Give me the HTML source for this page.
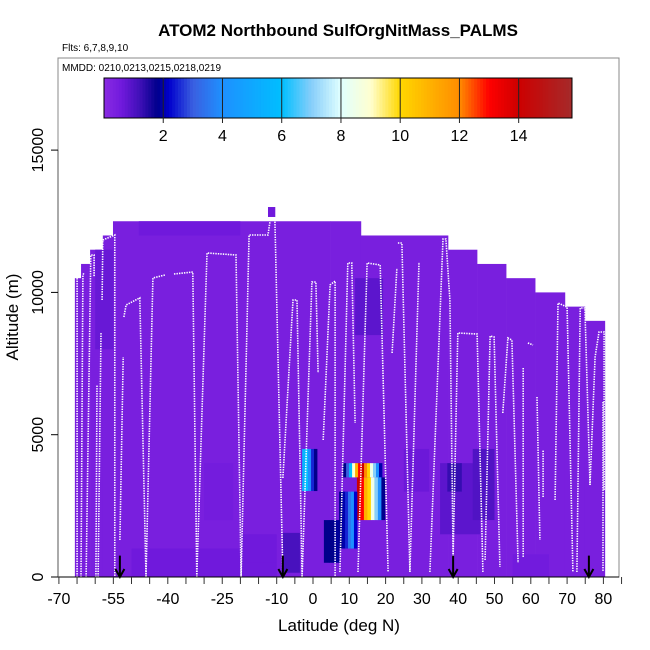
<!DOCTYPE html>
<html><head><meta charset="utf-8">
<style>
html,body{margin:0;padding:0;background:#fff;}
svg{display:block;font-family:"Liberation Sans",sans-serif;}
</style></head>
<body>
<svg id="chart" width="650" height="650" viewBox="0 0 650 650" xmlns="http://www.w3.org/2000/svg">
<text x="338" y="36" text-anchor="middle" font-size="17" font-weight="bold">ATOM2 Northbound SulfOrgNitMass_PALMS</text>
<text x="62" y="51" font-size="10">Flts: 6,7,8,9,10</text>
<g id="cells"></g>
<g id="profiles"></g>
<g id="arrows"></g>
<rect x="58" y="58" width="561" height="519" fill="none" stroke="#888" stroke-width="1"/>
<text x="62" y="71" font-size="10">MMDD: 0210,0213,0215,0218,0219</text>
<g id="cbar"></g>
<g id="xaxis"></g>
<g id="yaxis"></g>
<text x="339" y="631" text-anchor="middle" font-size="17">Latitude (deg N)</text>
<text transform="translate(18,317) rotate(-90)" text-anchor="middle" font-size="17">Altitude (m)</text>
</svg>
<script>
// ---- data ----
const colTopLat = [-65.6,-63.9,-61.4,-57.9,-55.1,4.7,13.2,37.2,45.2,53.2,61.2,69.4,74.9,80.4];
const colTopAlt = [10500,11000,11500,12000,12500,12500,12000,11500,11000,10500,10000,9500,9000];
const baseValue = 0.4;
const dimLat0 = [-60,-48,-8.3,-50,11.6,35,37,44,-20,25,55,-30];
const dimLat1 = [-55,-20,-3.6,-10,19.3,46,41,50,-10,32,65,-22];
const dimAlt0 = [8000,12000,150,0,8500,1500,3000,2000,500,3000,0,2000];
const dimAlt1 = [11500,12500,1550,1000,10500,4000,4000,4500,1500,4500,800,4000];
const dimVal  = [0.7,0.6,1.1,0.6,0.85,0.85,1.3,1.0,0.6,0.65,0.55,0.5];
const anomLat0 = [-3.0,8.3,12.1,7.2,3.0,-12.4];
const anomLat1 = [1.1,19.0,19.8,12.1,7.2,-10.5];
const anomAlt0 = [3020,3500,2000,1000,500,12650];
const anomAlt1 = [4500,4000,3500,3000,2000,13000];
const anomVals = [
  [5.5,6,4,2.5,1.8],
  [1.8,3,6,9,11,13,14,12,10,8.5,7,4,2],
  [14,13,11,10,8.5,7,4,1.8],
  [1.8,2,2.5,3.5,4,2.2],
  [1.8,1.8,1.9],
  [0.6]
];
const profiles = [
  [[-65.0,0],[-65.0,10577]],
  [[-63.9,0],[-63.4,10612],[-63.1,10682]],
  [[-62.5,0],[-61.2,11315],[-60.3,11315],[-60.3,10542]],
  [[-59.8,0],[-59.5,6747]],
  [[-59.2,0],[-58.4,8574]],
  [[-58.1,9734],[-57.9,11842],[-54.6,12018],[-54.6,0]],
  [[-53.2,1300],[-52.3,7731]],
  [[-52.1,9136],[-51.5,9558],[-47.7,9805],[-46.0,0]],
  [[-46.0,0],[-44.1,10507],[-40.8,10612]],
  [[-38.3,10647],[-33.1,10718],[-32.0,0]],
  [[-32.0,0],[-29.2,11386],[-21.2,11315],[-19.8,0]],
  [[-19.8,0],[-17.6,12018],[-12.4,12018],[-11.8,12545],[-10.5,12545],[-8.3,0]],
  [[-8.3,3479],[-5.5,9734],[-4.4,9734],[-3.0,0]],
  [[-3.0,0],[-0.3,10366],[0.8,10366],[1.4,7169]],
  [[2.8,4814],[4.7,10261],[6.1,10401],[6.1,0]],
  [[7.4,176],[9.6,11034],[10.7,11034],[11.6,5412]],
  [[12.4,176],[14.9,11034],[18.5,10963],[20.7,176]],
  [[21.8,7871],[23.1,10858]],
  [[23.4,11737],[24.5,11737],[26.7,176]],
  [[26.7,176],[29.2,11069]],
  [[32.2,176],[35.8,11877],[36.6,11877],[37.7,9734],[38.6,703]],
  [[38.6,703],[39.9,8574],[45.2,8539],[46.8,176]],
  [[47.4,597],[48.8,8469],[49.9,8434],[51.5,351]],
  [[52.3,5763],[53.7,8398],[54.8,8328],[56.5,492]],
  [[57.9,7344],[57.9,703]],
  [[59.2,8223],[60.6,8152]],
  [[61.7,6325],[62.5,1300]],
  [[63.4,2811],[63.4,4463]],
  [[66.7,2706],[67.5,9628],[70.0,9488],[71.6,176]],
  [[72.7,176],[73.6,9453],[74.9,9453],[76.3,3233]],
  [[76.3,3233],[77.7,7731],[78.8,8609],[80.2,8609],[80.2,3057]],
  [[79.9,6150],[79.9,176]]
];
const arrowLat = [-53.2,-8.3,38.6,76.0];
const xTicks = [-70,-65,-60,-55,-50,-45,-40,-35,-30,-25,-20,-15,-10,-5,0,5,10,15,20,25,30,35,40,45,50,55,60,65,70,75,80,85];
const xLabels = [-70,-55,-40,-25,-10,0,10,20,30,40,50,60,70,80];
const yTicks = [0,5000,10000,15000];
const cbarTicks = [2,4,6,8,10,12,14];
const cMin = 0, cMax = 15.8;

// ---- scales ----
const X = lat => 313 + 3.63*lat;
const Y = alt => 577 - alt*0.02846;
const CB = v => 104 + (v-cMin)/(cMax-cMin)*(572-104);
const stops = [[0,'#8a2be2'],[0.6,'#7019dc'],[1.2,'#4010b8'],[1.8,'#00008b'],[2.2,'#0000cd'],[3,'#3a5fe0'],[4,'#1e90ff'],[6,'#00bfff'],[7,'#87cefa'],[8,'#e0ffff'],[9,'#ffffd0'],[10,'#ffd700'],[12,'#ff8c00'],[13,'#ff0000'],[14,'#cd0000'],[15.8,'#a52a2a']];
function hx(c){return [1,3,5].map(i=>parseInt(c.substr(i,2),16));}
function color(v){
  if(v<=stops[0][0]) return stops[0][1];
  for(let i=1;i<stops.length;i++){
    if(v<=stops[i][0]){
      const t=(v-stops[i-1][0])/(stops[i][0]-stops[i-1][0]);
      const a=hx(stops[i-1][1]), b=hx(stops[i][1]);
      return 'rgb('+a.map((x,k)=>Math.round(x+(b[k]-x)*t)).join(',')+')';
    }
  }
  return stops[stops.length-1][1];
}
const NS='http://www.w3.org/2000/svg';
function mk(tag,attrs,parent){const e=document.createElementNS(NS,tag);for(const k in attrs)e.setAttribute(k,attrs[k]);parent.appendChild(e);return e;}

// ---- heatmap ----
const cells=document.getElementById('cells');
for(let i=0;i<colTopAlt.length;i++){
  const r=mk('rect',{x:X(colTopLat[i]),y:Y(colTopAlt[i]),width:X(colTopLat[i+1])-X(colTopLat[i])+0.3,height:Y(0)-Y(colTopAlt[i]),fill:color(baseValue)},cells);
  
  
}
for(let i=0;i<dimVal.length;i++){
  const r=mk('rect',{x:X(dimLat0[i]),y:Y(dimAlt1[i]),width:X(dimLat1[i])-X(dimLat0[i]),height:Y(dimAlt0[i])-Y(dimAlt1[i]),fill:color(dimVal[i])},cells);
  
  
}
for(let i=0;i<anomVals.length;i++){
  const n=anomVals[i].length, w=(anomLat1[i]-anomLat0[i])/n;
  for(let j=0;j<n;j++){
    const l0=anomLat0[i]+j*w;
    const r=mk('rect',{x:X(l0),y:Y(anomAlt1[i]),width:X(l0+w)-X(l0)+0.4,height:Y(anomAlt0[i])-Y(anomAlt1[i]),fill:color(anomVals[i][j])},cells);
    
    
  }
}
// ---- profiles ----
const pg=document.getElementById('profiles');
profiles.forEach(p=>{
  const pl=mk('polyline',{points:p.map(q=>X(q[0]).toFixed(1)+','+Y(q[1]).toFixed(1)).join(' '),fill:'none',stroke:'#fff','stroke-width':1.6,'stroke-dasharray':'1.4 1.1'},pg);
  
  
});
// ---- arrows ----
const ag=document.getElementById('arrows');
arrowLat.forEach(l=>{
  const x=X(l);
  const p=mk('path',{d:`M${x},${Y(750)} L${x},${Y(0)} M${x-4.5},${Y(0)-8} L${x},${Y(0)} L${x+4.5},${Y(0)-8}`,stroke:'#000','stroke-width':2,fill:'none'},ag);
  
  
});
// ---- colorbar ----
const cb=document.getElementById('cbar');
const nSeg=158;
for(let k=0;k<nSeg;k++){
  const v0=cMin+(cMax-cMin)*k/nSeg, v1=cMin+(cMax-cMin)*(k+1)/nSeg;
  const r=mk('rect',{x:CB(v0),y:78,width:Math.min(CB(v1)+0.4,CB(cMax))-CB(v0),height:40,fill:color((v0+v1)/2)},cb);
  
  
}
mk('rect',{x:CB(cMin),y:78,width:CB(cMax)-CB(cMin),height:40,fill:'none',stroke:'#000','stroke-width':1},cb);
cbarTicks.forEach(t=>{
  mk('line',{x1:CB(t),x2:CB(t),y1:78,y2:123,stroke:'#222','stroke-width':1},cb);
  const tx=mk('text',{x:CB(t),y:141,'text-anchor':'middle','font-size':16},cb);
  tx.textContent=t;
  
  
});
// ---- axes ----
const xa=document.getElementById('xaxis');
mk('line',{x1:58,x2:619,y1:577,y2:577,stroke:'#000','stroke-width':1},xa);
xTicks.forEach(t=>{mk('line',{x1:X(t),x2:X(t),y1:577,y2:584,stroke:'#333','stroke-width':1},xa);});
xLabels.forEach(t=>{
  const tx=mk('text',{x:X(t),y:604,'text-anchor':'middle','font-size':16},xa);
  tx.textContent=t;
  
  
});
const ya=document.getElementById('yaxis');
mk('line',{x1:58,x2:58,y1:Y(0),y2:Y(15000),stroke:'#555','stroke-width':1},ya);
yTicks.forEach(t=>{
  mk('line',{x1:51,x2:58,y1:Y(t),y2:Y(t),stroke:'#000','stroke-width':1},ya);
  const tx=mk('text',{transform:`translate(43,${Y(t)}) rotate(-90)`,'text-anchor':'middle','font-size':16},ya);
  tx.textContent=t;
  
  
});
</script>
</body></html>
